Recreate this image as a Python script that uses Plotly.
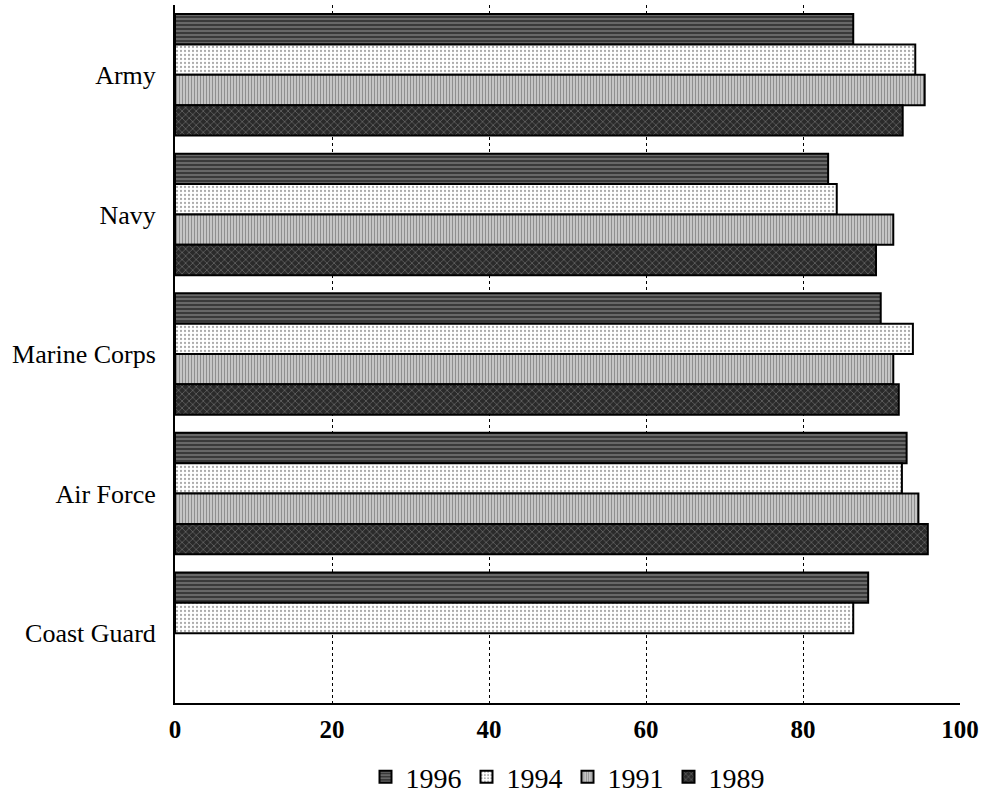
import plotly.graph_objects as go

categories = ["Army", "Navy", "Marine Corps", "Air Force", "Coast Guard"]
years = ["1996", "1994", "1991", "1989"]
v1996 = [86.4, 83.2, 89.9, 93.2, 88.3]
v1994 = [94.3, 84.3, 94.0, 92.6, 86.4]
v1991 = [95.5, 91.5, 91.5, 94.7, None]
v1989 = [92.7, 89.3, 92.2, 95.9, None]
x_ticks = [0, 20, 40, 60, 80, 100]

series = [v1996, v1994, v1991, v1989]
patterns = [
    dict(shape="-", bgcolor="#3a3a3a", fgcolor="#bdbdbd", size=4, solidity=0.35),
    dict(shape=".", bgcolor="#ffffff", fgcolor="#555555", size=4, solidity=0.25),
    dict(shape="|", bgcolor="#e8e8e8", fgcolor="#333333", size=3, solidity=0.6),
    dict(shape="x", bgcolor="#2a2a2a", fgcolor="#9a9a9a", size=5, solidity=0.3),
]

fig = go.Figure()
for name, vals, pat in zip(years, series, patterns):
    fig.add_trace(go.Bar(
        y=categories, x=vals, name=name, orientation="h",
        marker=dict(color=pat["bgcolor"], pattern=pat,
                    line=dict(color="black", width=2)),
    ))

fig.update_layout(
    width=985, height=799,
    margin=dict(l=175, r=25, t=5, b=96, autoexpand=False),
    paper_bgcolor="white", plot_bgcolor="white",
    barmode="group", bargap=0.13, bargroupgap=0.0,
    font=dict(family="Liberation Serif", color="black", size=20),
    showlegend=True,
    legend=dict(orientation="h", x=0.5, xanchor="center", y=-0.106, yanchor="middle",
                font=dict(family="Liberation Serif", size=28), itemwidth=30,
                tracegroupgap=0, bgcolor="rgba(0,0,0,0)"),
    xaxis=dict(range=[0, 100], tickvals=x_ticks, showgrid=True, gridcolor="black",
               griddash="dot", gridwidth=1, showline=True, linecolor="black", linewidth=2,
               zeroline=False, ticks="", ticklabelstandoff=3, automargin=False,
               tickfont=dict(family="Liberation Serif", size=25, weight="bold")),
    yaxis=dict(autorange="reversed", showline=True, linecolor="black", linewidth=2,
               showgrid=False, ticks="", ticklabelstandoff=12, automargin=False,
               tickfont=dict(family="Liberation Serif", size=26)),
)

fig.write_html("out.html", config={"displayModeBar": False},
               post_script="document.body.style.margin='0px';")
